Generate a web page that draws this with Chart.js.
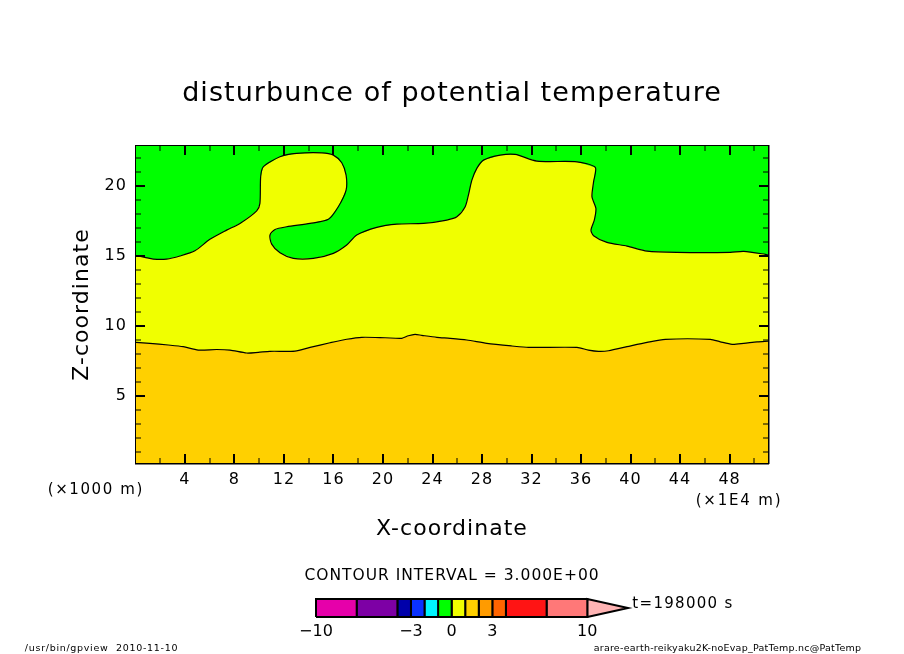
<!DOCTYPE html>
<html><head><meta charset="utf-8">
<script src="https://cdn.jsdelivr.net/npm/chart.js@4/dist/chart.umd.min.js"></script>
<style>
html,body{margin:0;padding:0;background:#fff;width:904px;height:654px;overflow:hidden}
#main{position:absolute;left:0;top:0}
#bar{position:absolute;left:290px;top:590px}
</style></head><body>
<canvas id="main" width="904" height="654"></canvas>
<canvas id="bar" width="360" height="56"></canvas>
<script>
const FONT='"DejaVu Sans"';
const xRange=[0.05,51.1], zRange=[0.2,22.85];
const xMajor=[4,8,12,16,20,24,28,32,36,40,44,48];
const xMinor=[2,6,10,14,18,22,26,30,34,38,42,46,50];
const zMajor=[5,10,15,20];
const zMinor=[1,2,3,4,6,7,8,9,11,12,13,14,16,17,18,19,21,22];
const contour0X=[0.05,0.77,1.44,2.52,3.6,4.81,6.02,7.37,8.45,9.8,10.06,10.12,10.33,11.68,13.03,15.05,15.99,16.67,17.02,17.02,16.39,15.59,14.11,12.22,11.28,10.87,11.01,11.68,12.76,14.37,15.99,17.07,17.88,19.5,21.12,23.27,25.16,25.97,26.64,26.9,27.18,27.58,28.12,29.47,30.68,32.43,35.67,37.15,37.01,36.88,37.2,37.07,36.8,37.01,38.09,39.71,41.33,43.75,48.06,49.14,50.89,51.1];
const contour0Z=[15.02,14.89,14.77,14.77,14.99,15.36,16.18,16.84,17.32,18.22,18.75,20.65,21.36,22.08,22.32,22.36,22.2,21.65,20.77,19.7,18.51,17.61,17.32,17.08,16.89,16.49,15.84,15.22,14.82,14.82,15.18,15.77,16.49,17.04,17.27,17.32,17.56,17.79,18.51,19.34,20.41,21.25,21.84,22.2,22.25,21.77,21.72,21.32,20.29,19.22,18.39,17.56,16.84,16.44,15.96,15.7,15.34,15.25,15.25,15.32,15.11,15.06];
const contour3X=[0.05,1.17,2.65,3.86,5.08,6.56,7.64,8.99,9.93,10.87,12.89,14.11,15.72,17.07,18.29,20.17,21.52,22.05,22.59,23.14,24.35,25.42,26.77,28.39,30.41,31.75,35.67,36.6,37.41,38.22,39.71,41.33,42.81,46.45,47.25,48.2,49.14,50.22,51.1];
const contour3Z=[8.82,8.75,8.63,8.51,8.27,8.31,8.27,8.06,8.11,8.18,8.2,8.46,8.79,9.04,9.18,9.15,9.11,9.29,9.39,9.32,9.18,9.11,8.99,8.75,8.56,8.46,8.46,8.27,8.18,8.22,8.51,8.82,9.04,9.04,8.86,8.68,8.75,8.86,8.91];
const zoneColors=['#00ff00','#f0ff00','#ffd000'];
const cbLevels=[-10,-7,-4,-3,-2,-1,0,1,2,3,4,7,10];
const cbColors=['#e600aa','#7d00a5','#0000aa','#0a32ff','#00f5ff','#00ff00','#f0ff00','#ffd000','#ff9b00','#ff6400','#ff1414','#ff7878'];
const cbTipColor='#ffb4b4';
const cbTicks=[-10,-3,0,3,10];
const titleText='disturbunce of potential temperature';
const xTitleText='X-coordinate', zTitleText='Z-coordinate';
const notes=[
 ['(×1000 m)',95.8,490,15,'#000',1.6],
 ['(×1E4 m)',739,501,15,'#000',1.8],
 ['CONTOUR INTERVAL = 3.000E+00',452,576,15.5,'#000',1],
 ['t=198000 s',683,604,15,'#000',1.3],
 ['/usr/bin/gpview  2010-11-10',101.5,649,9.5,'#000',0.7],
 ['arare-earth-reikyaku2K-noEvap_PatTemp.nc@PatTemp',727.5,649,9.5,'#000',0.24]
];
const pts=(xs,zs)=>xs.map((x,i)=>({x,y:zs[i]}));
const c0=pts(contour0X,contour0Z), c3=pts(contour3X,contour3Z);
const lo=[{x:xRange[1],y:zRange[0]},{x:xRange[0],y:zRange[0]}];
const whole=[{x:xRange[0],y:zRange[1]},{x:xRange[1],y:zRange[1]},{x:xRange[1],y:zRange[0]},{x:xRange[0],y:zRange[0]}];
const zone=(data,color)=>({data,backgroundColor:color,borderWidth:0,fill:'shape',showLine:true,pointRadius:0,tension:0});
const line=(data)=>({data,borderColor:'#000',borderWidth:1.2,fill:false,showLine:true,pointRadius:0,tension:0.25});
const fixedAxis=(size,horizontal)=>(s)=>{ if(horizontal) s.height=size; else s.width=size; };
const spacing={id:'spacing',beforeDraw(c){c.ctx.letterSpacing='1.05px';}};
const innerTicks={id:'innerTicks',afterDatasetsDraw(c){
  const {ctx,chartArea:a,scales:{x,y}}=c;
  const mark=(vals,len,w)=>{ctx.lineWidth=w;ctx.strokeStyle='#000';ctx.beginPath();
    vals.forEach(v=>{const px=Math.round(x.getPixelForValue(v));ctx.moveTo(px,a.bottom);ctx.lineTo(px,a.bottom-len);ctx.moveTo(px,a.top);ctx.lineTo(px,a.top+len);});ctx.stroke();};
  const markY=(vals,len,w)=>{ctx.lineWidth=w;ctx.strokeStyle='#000';ctx.beginPath();
    vals.forEach(v=>{const py=Math.round(y.getPixelForValue(v));ctx.moveTo(a.left,py);ctx.lineTo(a.left+len,py);ctx.moveTo(a.right,py);ctx.lineTo(a.right-len,py);});ctx.stroke();};
  mark(xMajor,9,2);mark(xMinor,5,1);markY(zMajor,9,2);markY(zMinor,5,1);
}};
const notesPlugin={id:'notes',afterDraw(c){
  const ctx=c.ctx;ctx.save();ctx.textAlign='center';ctx.textBaseline='middle';
  notes.forEach(([t,x,y,s,col,ls])=>{ctx.font=s+'px '+FONT;ctx.fillStyle=col;ctx.letterSpacing=ls+'px';ctx.fillText(t,x,y);});
  ctx.restore();
}};
const noGrid={display:true,drawOnChartArea:false,drawTicks:false};
const frame={display:true,color:'#000',width:2.5};
new Chart(document.getElementById('main'),{
  type:'scatter',
  data:{datasets:[
    line(c0),line(c3),
    zone(c3.concat(lo),zoneColors[2]),
    zone(c0.concat(lo),zoneColors[1]),
    zone(whole,zoneColors[0])
  ]},
  options:{responsive:false,animation:false,devicePixelRatio:1,
    layout:{padding:{left:0,right:0,top:0,bottom:110}},
    plugins:{legend:{display:false},tooltip:{enabled:false},
      title:{display:true,text:titleText,color:'#000',font:{family:FONT,size:27,weight:'normal'},padding:{top:77.8,bottom:33.8}}},
    scales:{
      x:{type:'linear',position:'bottom',min:xRange[0],max:xRange[1],grid:noGrid,border:frame,
        afterBuildTicks:s=>{s.ticks=xMajor.map(value=>({value}));},
        afterFit:fixedAxis(81,true),
        ticks:{color:'#000',maxRotation:0,autoSkip:false,padding:7,font:{family:FONT,size:16}},
        title:{display:true,text:xTitleText,color:'#000',font:{family:FONT,size:22},padding:{top:0,bottom:2}}},
      y:{type:'linear',position:'left',min:zRange[0],max:zRange[1],grid:noGrid,border:frame,
        afterBuildTicks:s=>{s.ticks=zMajor.map(value=>({value}));},
        afterFit:fixedAxis(136,false),
        ticks:{color:'#000',autoSkip:false,padding:9,font:{family:FONT,size:16}},
        title:{display:true,text:zTitleText,color:'#000',font:{family:FONT,size:22},padding:{top:69,bottom:0}}},
      xTop:{type:'linear',position:'top',min:xRange[0],max:xRange[1],grid:noGrid,border:frame,ticks:{display:false},afterFit:fixedAxis(2,true)},
      yRight:{type:'linear',position:'right',min:zRange[0],max:zRange[1],grid:noGrid,border:frame,ticks:{display:false},afterFit:fixedAxis(136,false)}
    }
  },
  plugins:[spacing,innerTicks,notesPlugin]
});
const cell=(a,b,color)=>({data:[{x:a,y:0},{x:b,y:0},{x:b,y:1},{x:a,y:1},{x:a,y:0}],backgroundColor:color,borderColor:'#000',borderWidth:2,fill:'shape',showLine:true,pointRadius:0,clip:false,tension:0});
const cbDatasets=cbColors.map((col,i)=>cell(cbLevels[i],cbLevels[i+1],col));
cbDatasets.push({data:[{x:10,y:0},{x:13,y:0.5},{x:10,y:1},{x:10,y:0}],backgroundColor:cbTipColor,borderColor:'#000',borderWidth:2,fill:'shape',showLine:true,pointRadius:0,clip:false,tension:0});
new Chart(document.getElementById('bar'),{
  type:'scatter',
  data:{datasets:cbDatasets},
  options:{responsive:false,animation:false,devicePixelRatio:1,
    layout:{padding:{left:26,right:22,top:9,bottom:0}},
    plugins:{legend:{display:false},tooltip:{enabled:false}},
    scales:{
      x:{type:'linear',min:-10,max:13,grid:{display:false,drawTicks:false},border:{display:false},
        afterBuildTicks:s=>{s.ticks=cbTicks.map(value=>({value}));},
        afterFit:fixedAxis(29,true),
        ticks:{color:'#000',autoSkip:false,maxRotation:0,padding:5,font:{family:FONT,size:16},callback:v=>v<0?'\u2212'+Math.abs(v):String(v)}},
      y:{type:'linear',min:0,max:1,display:false}
    }
  }
});
</script>
</body></html>
